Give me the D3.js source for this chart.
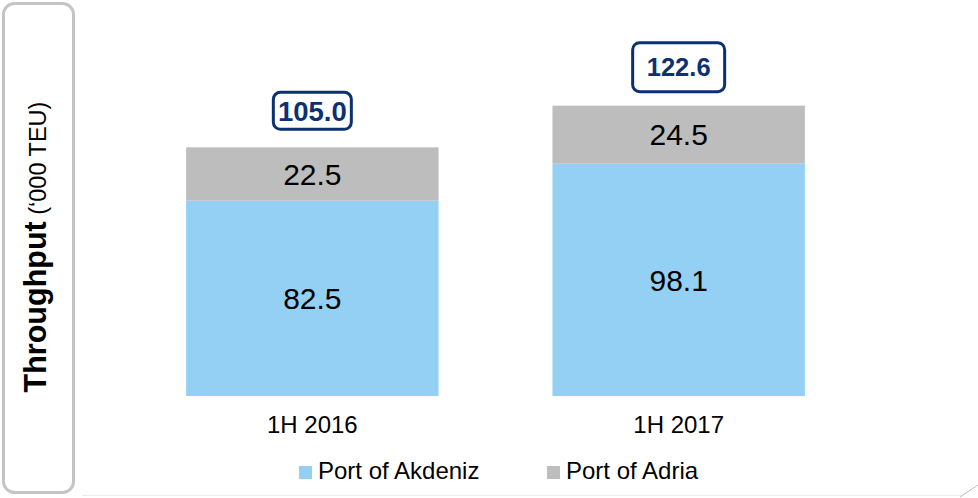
<!DOCTYPE html>
<html>

<head>
    <title>Throughput</title>
    <meta charset="UTF-8">
    <script src="https://d3js.org/d3.v7.min.js"></script>
    <style type="text/css">
        body { margin: 0; background: #fff; }
        text { font-family: "Liberation Sans", Arial, sans-serif; }
    </style>
</head>

<body>
    <script type="text/javascript">
        // Chart data
        var categories = ["1H 2016", "1H 2017"];
        var seriesNames = ["Port of Akdeniz", "Port of Adria"];
        var akdeniz = [82.5, 98.1];
        var adria = [22.5, 24.5];
        var totals = [105.0, 122.6];

        var colors = ["#93d0f4", "#bdbdbd"];
        var navy = "#0b3173";

        var width = 978, height = 498;

        var svg = d3.select("body")
            .append("svg")
            .attr("width", width)
            .attr("height", height);

        // Left rounded label box
        svg.append("rect")
            .attr("x", 3.5).attr("y", 3.5)
            .attr("width", 70).attr("height", 489)
            .attr("rx", 11)
            .attr("fill", "#fff")
            .attr("stroke", "#c4c4c4")
            .attr("stroke-width", 3);

        var yLabel = svg.append("text")
            .attr("transform", "translate(46,247) rotate(-90)")
            .attr("text-anchor", "middle")
            .attr("fill", "#000");
        yLabel.append("tspan").attr("font-weight", "bold").attr("font-size", 30.5).text("Throughput");
        yLabel.append("tspan").attr("font-size", 23.5).text(" (\u2018000 TEU)");

        // faint frame at bottom right
        svg.append("line")
            .attr("x1", 82).attr("x2", 961).attr("y1", 495.5).attr("y2", 495.5)
            .attr("stroke", "#ececec").attr("stroke-width", 1);
        svg.append("line")
            .attr("x1", 960).attr("y1", 497).attr("x2", 978).attr("y2", 485)
            .attr("stroke", "#bbb").attr("stroke-width", 1);

        // Scales
        var x = d3.scaleBand()
            .domain(categories)
            .range([129, 862])
            .paddingInner(0.311)
            .paddingOuter(0.156);
        var y = d3.scaleLinear().domain([0, 125]).range([396, 100]);

        // Stack data
        var rows = categories.map(function (c, i) {
            return { cat: c, s0: akdeniz[i], s1: adria[i] };
        });
        var stack = d3.stack().keys(["s0", "s1"])(rows);

        var layers = svg.selectAll("g.layer")
            .data(stack)
            .enter().append("g")
            .attr("class", "layer")
            .attr("fill", function (d, i) { return colors[i]; });

        layers.selectAll("rect")
            .data(function (d) { return d; })
            .enter().append("rect")
            .attr("x", function (d) { return x(d.data.cat); })
            .attr("width", x.bandwidth())
            .attr("y", function (d) { return y(d[1]); })
            .attr("height", function (d) { return y(d[0]) - y(d[1]); });

        layers.selectAll("text")
            .data(function (d) { return d; })
            .enter().append("text")
            .attr("x", function (d) { return x(d.data.cat) + x.bandwidth() / 2; })
            .attr("y", function (d) { return (y(d[0]) + y(d[1])) / 2; })
            .attr("dy", "0.36em")
            .attr("text-anchor", "middle")
            .attr("font-size", 30)
            .attr("fill", "#000")
            .text(function (d) { return d3.format(".1f")(d[1] - d[0]); });

        // Total boxes
        var boxW = [78, 92], boxH = [37, 49], boxFont = [27.5, 25.5], boxGap = [18, 14];
        var totalG = svg.selectAll("g.total")
            .data(totals)
            .enter().append("g")
            .attr("class", "total")
            .attr("transform", function (d, i) {
                var cx = x(categories[i]) + x.bandwidth() / 2;
                var cy = y(d) - boxGap[i] - boxH[i] / 2;
                return "translate(" + cx + "," + cy + ")";
            });
        totalG.append("rect")
            .attr("x", function (d, i) { return -boxW[i] / 2; })
            .attr("y", function (d, i) { return -boxH[i] / 2; })
            .attr("width", function (d, i) { return boxW[i]; })
            .attr("height", function (d, i) { return boxH[i]; })
            .attr("rx", 7)
            .attr("fill", "#fff")
            .attr("stroke", navy)
            .attr("stroke-width", 3);
        totalG.append("text")
            .attr("text-anchor", "middle")
            .attr("dy", "0.36em")
            .attr("font-weight", "bold")
            .attr("font-size", function (d, i) { return boxFont[i]; })
            .attr("fill", navy)
            .text(function (d) { return d3.format(".1f")(d); });

        // Category axis labels
        var xAxis = d3.axisBottom(x).tickSize(0).tickPadding(0);
        var xg = svg.append("g")
            .attr("transform", "translate(0,416)")
            .call(xAxis);
        xg.select(".domain").remove();
        xg.selectAll("text")
            .attr("font-family", "Liberation Sans, Arial, sans-serif")
            .attr("font-size", 24)
            .attr("fill", "#000")
            .attr("dy", "0.71em");

        // Legend
        var legendX = [299, 547];
        var legend = svg.selectAll("g.legend")
            .data(seriesNames)
            .enter().append("g")
            .attr("class", "legend")
            .attr("transform", function (d, i) { return "translate(" + legendX[i] + ",466)"; });
        legend.append("rect")
            .attr("width", 13).attr("height", 13)
            .attr("fill", function (d, i) { return colors[i]; });
        legend.append("text")
            .attr("x", 19).attr("y", 13)
            .attr("font-size", 24)
            .attr("fill", "#000")
            .text(function (d) { return d; });
    </script>
</body>

</html>
